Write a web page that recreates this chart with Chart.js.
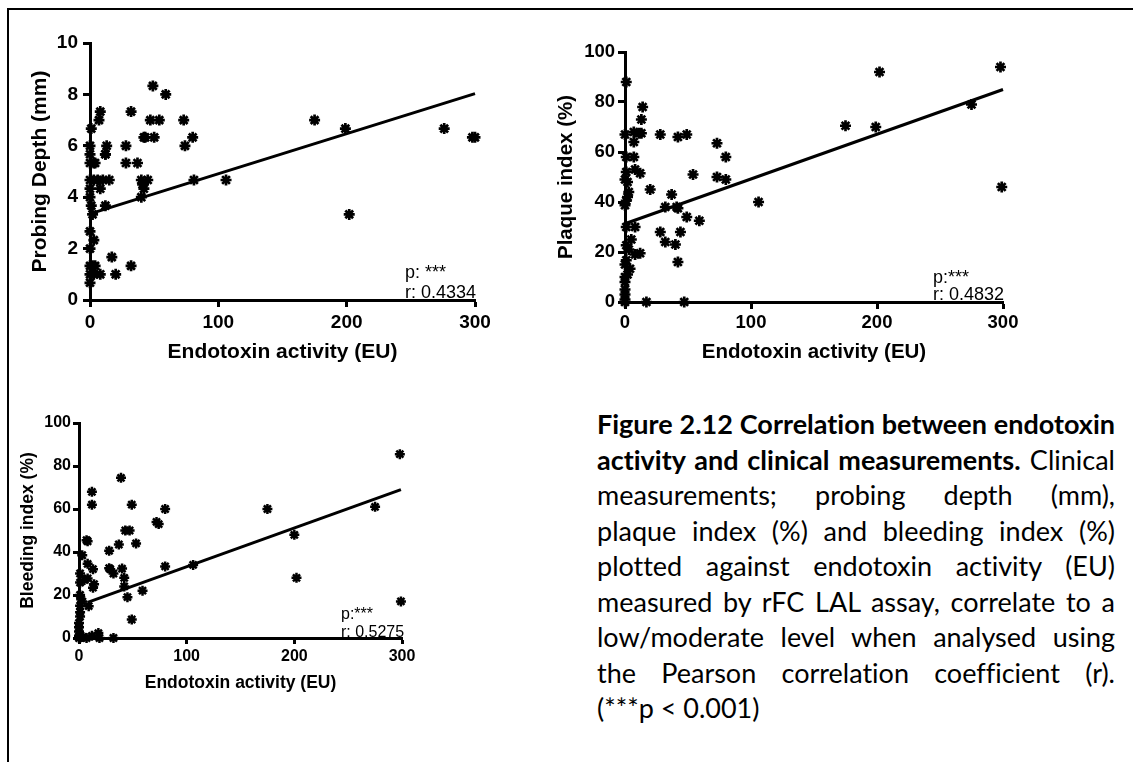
<!DOCTYPE html>
<html>
<head>
<meta charset="utf-8">
<script src="https://cdn.jsdelivr.net/npm/chart.js@4.4.1/dist/chart.umd.min.js"></script>
<style>
  html, body { margin: 0; padding: 0; background: #fff; }
  body { width: 1133px; height: 762px; position: relative; overflow: hidden; }
  #frame { position: absolute; left: 7px; top: 8px; right: -5px; bottom: -5px; border-left: 2px solid #000; border-top: 2px solid #000; }
  .box { position: absolute; }
  #caption { position: absolute; left: 597px; top: 406px; width: 518px; font-family: Lato, "Open Sans", sans-serif; font-size: 27px; line-height: 35.5px; color: #000; font-variant-ligatures: none; font-feature-settings: "liga" 0, "clig" 0; }
  #caption div { text-align: justify; text-align-last: justify; white-space: nowrap; }
  #caption div.last { text-align: left; text-align-last: left; }
</style>
</head>
<body>
<div id="frame"></div>
<div class="box" style="left:0;top:0;width:520px;height:380px"><canvas id="ChartPD"></canvas></div>
<div class="box" style="left:520px;top:0;width:613px;height:380px"><canvas id="ChartPL"></canvas></div>
<div class="box" style="left:0;top:380px;width:520px;height:382px"><canvas id="ChartBL"></canvas></div>
<div id="caption">
  <div><b>Figure 2.12 Correlation between endotoxin</b></div>
  <div><b>activity and clinical measurements.</b> Clinical</div>
  <div>measurements; probing depth (mm),</div>
  <div>plaque index (%) and bleeding index (%)</div>
  <div>plotted against endotoxin activity (EU)</div>
  <div>measured by rFC LAL assay, correlate to a</div>
  <div>low/moderate level when analysed using</div>
  <div>the Pearson correlation coefficient (r).</div>
  <div class="last">(***p &lt; 0.001)</div>
</div>
<script>
// probing depth (mm) vs endotoxin (EU)
const pdX = [49,59,8,7,32,47,54,73,175,1,42,43,50,80,74,28,13,12,0,12,0,3,0,4,28,37,0,3,6,10,15,40,45,81,106,0,8,42,0,40,41,12,1,2,0,3,0,17,32,2,0,4,20,8,0,3,0,202,199,276,298,300]
const pdY = [8.33,8.0,7.33,7.0,7.33,7.0,7.0,7.0,7.0,6.67,6.33,6.33,6.33,6.33,6.0,6.0,6.0,5.67,6.0,5.67,5.67,5.33,5.33,5.33,5.33,5.33,4.67,4.67,4.67,4.67,4.67,4.67,4.67,4.67,4.67,4.33,4.33,4.33,4.0,4.0,4.5,3.67,3.67,3.33,2.67,2.33,2.0,1.67,1.33,1.33,1.33,1.33,1.0,1.0,1.0,1.0,0.67,3.33,6.67,6.67,6.33,6.33]
const pdFitX = [3, 300]
const pdFitY = [3.4, 8.03]

// plaque index (%)
const plX = [1,14,13,7,11,13,0,28,42,49,73,7,7,80,1,8,12,54,73,80,0,2,1,20,3,37,1,0,2,32,41,42,106,49,59,8,1,28,44,32,40,5,1,3,8,12,42,1,4,0,2,0,0,0,0,0,17,47,0,202,298,275,299,175,199]
const plY = [88,78,73,68,67.5,67.5,67,67,66,67,63.5,64,58,58,58,53,51.5,51,50,49,49,48,52,45,44,43,40.5,38.7,42,38,38,37.5,40,34,32.5,30,30,28,28,24,23,25,22.7,21,19,19.5,16,16.7,13.3,15,11,10,8,5,3,1,0,0,0,92,94,79,46,70.5,70]
const plFitX = [1, 300]
const plFitY = [31.5, 85]

// bleeding index (%)
const blX = [39,12,12,49,80,72,74,43,47,8,7,53,37,28,3,8,13,28,29,40,32,80,106,1,8,5,42,1,14,13,42,59,45,1,2,3,1,9,49,1,1,0,0,0,0,0,18,12,19,32,7,4,298,299,275,175,200,202]
const blY = [74.5,68,62,62,60,54,53,50,50,45,45.5,44,43.5,40.6,38.5,34.5,32,32.5,32,32.3,30,33.3,34,30,27.7,27,28,25.8,25,23.4,24,22,19,20,18,17,15,14.8,8.6,12,10,7,5,3,1,0,2.3,1,0,0,0,0.5,85.5,17,61,60,48,28]
const blFitX = [8, 299]
const blFitY = [16.6, 69]

const xTicks = [0, 100, 200, 300]
const pdTicks = [0, 2, 4, 6, 8, 10]
const pctTicks = [0, 20, 40, 60, 80, 100]

const xTitle = 'Endotoxin activity (EU)'
const pdStats = ['p: ***', 'r: 0.4334']
const plStats = ['p:***', 'r: 0.4832']
const blStats = ['p:***', 'r: 0.5275']

const FONT = '"Liberation Sans", Arial, sans-serif'

const statsText = {
  id: 'statsText',
  afterDatasetsDraw(chart, args, opts) {
    const {ctx, chartArea} = chart
    ctx.save()
    ctx.font = opts.size + 'px ' + FONT
    ctx.fillStyle = '#000'
    ctx.textAlign = 'left'
    ctx.textBaseline = 'alphabetic'
    opts.lines.forEach((t, i) => ctx.fillText(t, chartArea.right - opts.dx, chartArea.bottom - opts.dy[i]))
    ctx.restore()
  }
}

const bold = s => ({family: FONT, size: s, weight: 'bold', lineHeight: 1})

function renderChart(id, xs, ys, fitX, fitY, yTicks, yMax, yTitle, stats, g) {
  const ctx = document.getElementById(id)
  const pts = xs.map((x, i) => ({x: x, y: ys[i]}))
  const fit = fitX.map((x, i) => ({x: x, y: fitY[i]}))
  const grid = {drawOnChartArea: false, drawTicks: true, tickLength: g.tl, tickWidth: 3, tickColor: '#000'}
  const border = {display: true, width: 3, color: '#000'}
  new Chart(ctx, {
    type: 'scatter',
    data: {
      datasets: [
        {data: fit, showLine: true, borderColor: '#000', borderWidth: 3, pointRadius: 0, clip: false},
        {data: pts, pointStyle: 'star', pointRadius: g.r, borderColor: '#000', backgroundColor: '#000', borderWidth: g.bw, clip: false}
      ]
    },
    options: {
      responsive: true,
      maintainAspectRatio: false,
      animation: false,
      events: [],
      layout: {padding: g.pad},
      plugins: {
        legend: {display: false},
        tooltip: {enabled: false},
        statsText: {lines: stats, size: g.statSize, dx: g.statDx, dy: g.statDy}
      },
      scales: {
        x: {
          type: 'linear', min: 0, max: 300,
          afterBuildTicks: s => { s.ticks = xTicks.map(v => ({value: v})) },
          ticks: {font: bold(g.tick), color: '#000', padding: g.xpad, maxRotation: 0},
          grid: grid, border: border,
          title: {display: true, text: xTitle, color: '#000', font: bold(g.title), padding: {top: 0, bottom: g.xtp}},
          afterFit: s => { s.height = g.xh; s.paddingLeft = 0; s.paddingRight = 0 }
        },
        y: {
          type: 'linear', min: 0, max: yMax,
          afterBuildTicks: s => { s.ticks = yTicks.map(v => ({value: v})) },
          ticks: {font: bold(g.tick), color: '#000', padding: g.ypad},
          grid: grid, border: border,
          title: {display: true, text: yTitle, color: '#000', font: bold(g.title), padding: {top: g.ytp, bottom: 0}},
          afterFit: s => { s.width = g.yw; s.paddingTop = 0; s.paddingBottom = 0 }
        }
      }
    },
    plugins: [statsText]
  })
}

const init = () => {
  renderChart('ChartPD', pdX, pdY, pdFitX, pdFitY, pdTicks, 10, 'Probing Depth (mm)', pdStats,
    {pad: {left: 20, top: 43, right: 45, bottom: 10}, yw: 70, xh: 70, tl: 7, tick: 19, title: 21,
     xpad: 6.5, ypad: 5, xtp: 7.5, ytp: 9.5, r: 5.5, bw: 2.7, statSize: 18, statDx: 70, statDy: [21.7, 2.3]})
  renderChart('ChartPL', plX, plY, plFitX, plFitY, pctTicks, 100, 'Plaque index (%)', plStats,
    {pad: {left: 25, top: 52, right: 130, bottom: 8}, yw: 80, xh: 70, tl: 7, tick: 18.5, title: 20.5,
     xpad: 5, ypad: 3, xtp: 9.75, ytp: 10.75, r: 5.5, bw: 2.7, statSize: 18, statDx: 70, statDy: [19.3, 2]})
  renderChart('ChartBL', blX, blY, blFitX, blFitY, pctTicks, 100, 'Bleeding index (%)', blStats,
    {pad: {left: 12, top: 43, right: 118, bottom: 64}, yw: 67, xh: 60, tl: 6, tick: 16, title: 17.5,
     xpad: 5, ypad: 2, xtp: 6.25, ytp: 7.85, r: 5, bw: 2.5, statSize: 16, statDx: 61, statDy: [19, 1]})
}
init()
</script>
</body>
</html>
